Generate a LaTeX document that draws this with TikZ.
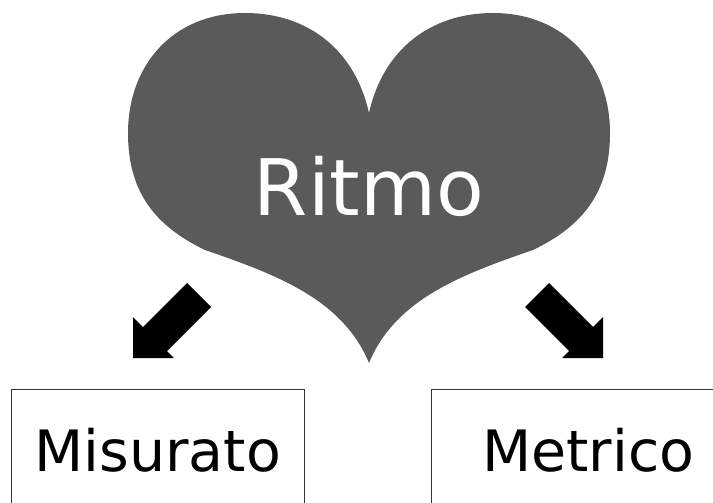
\documentclass[tikz,border=0pt]{standalone}
\usepackage{fontspec}
\setmainfont{DejaVu Sans}
\usetikzlibrary{positioning}
\definecolor{heartgray}{HTML}{5A5A5A}

\begin{document}
\begin{tikzpicture}[%
    x=1pt, y=-1pt,
    heart/.style={fill=heartgray},
    blockarrow/.style={fill=black},
    box/.style={draw=black!80, line width=0.8pt, minimum width=293pt,
      minimum height=122pt, font=\fontsize{57}{60}\selectfont}
  ]
    \clip (0,0) rectangle (713,503);

    % heart
    \fill[heart] (369,113)
      .. controls (383,50) and (430,13) .. (493,13)
      .. controls (565,13) and (610,65) .. (610,133)
      .. controls (610,190) and (585,225) .. (533,250)
      .. controls (460,275) and (395,300) .. (369,363)
      .. controls (343,300) and (278,275) .. (205,250)
      .. controls (153,225) and (128,190) .. (128,133)
      .. controls (128,65) and (173,13) .. (245,13)
      .. controls (308,13) and (355,50) .. (369,113) -- cycle;
    \node[anchor=base, text=white, font=\fontsize{78}{80}\selectfont]
      (ritmo) at (369,215) {Ritmo};

    % arrows
    \fill[blockarrow] (187,283) -- (211,307) -- (167,351) -- (174,358)
      -- (133,358) -- (133,317) -- (143,327) -- cycle;
    \fill[blockarrow] (549,283) -- (525,307) -- (569,351) -- (562,358)
      -- (603,358) -- (603,317) -- (593,327) -- cycle;

    \node[box, anchor=north west] (misurato) at (11,389) {Misurato};
    \node[box, minimum width=314pt, right=126pt of misurato] (metrico) {Metrico};
  \end{tikzpicture}
\end{document}
